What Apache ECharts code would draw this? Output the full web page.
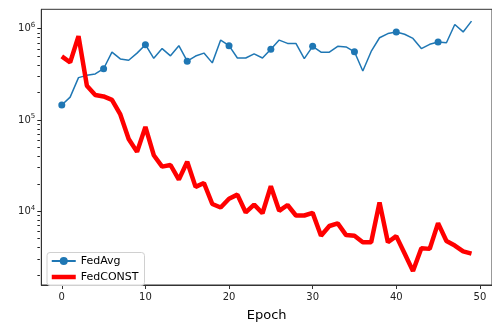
<!DOCTYPE html>
<html><head><meta charset="utf-8">
<script src="https://cdn.jsdelivr.net/npm/echarts@6/dist/echarts.min.js"></script>
<style>html,body{margin:0;padding:0;background:#fff}#c{width:492px;height:327px}</style>
</head><body><div id="c"></div>
<script>
const epochs = [0,1,2,3,4,5,6,7,8,9,10,11,12,13,14,15,16,17,18,19,20,21,22,23,24,25,26,27,28,29,30,31,32,33,34,35,36,37,38,39,40,41,42,43,44,45,46,47,48,49];
const fedAvg = [146000,178000,291000,308000,319000,364000,554000,466000,451000,540000,668000,473000,605000,504000,651000,440000,501000,540000,422000,750000,652000,477000,477000,530000,477000,596000,750000,690000,690000,469000,641000,553000,553000,641000,631000,558000,344000,563000,795000,884000,921000,869000,782000,605000,674000,713000,702000,1110000,921000,1210000];
const fedConst = [497000,428000,828000,237000,188000,181000,166000,115000,62000,44700,84000,41100,30800,32100,22200,34800,18500,20400,12000,11000,13700,15200,9700,11800,9500,18800,10100,11700,8980,8980,9600,5380,6890,7360,5480,5380,4570,4570,12500,4570,5340,3450,2210,3940,3870,7410,4720,4210,3630,3430];
const xTicks = [0,10,20,30,40,50];
const yMajor = [1e4,1e5,1e6];
const yMinor = [2e3,3e3,4e3,5e3,6e3,7e3,8e3,9e3,2e4,3e4,4e4,5e4,6e4,7e4,8e4,9e4,2e5,3e5,4e5,5e5,6e5,7e5,8e5,9e5];
const seriesNames = ['FedAvg','FedCONST'];
const markEvery = 5;
const yMin = 1556, yMax = 1630000;
const gridLeft = 41.3, gridTop = 9.3, gridW = 452.1, gridH = 281.7;

const font = 'DejaVu Sans';
const chart = echarts.init(document.getElementById('c'), null, {renderer:'canvas'});
const avgData = epochs.map((e,i)=> i % markEvery === 0 ? [e, fedAvg[i]] : {value:[e, fedAvg[i]], symbol:'none'});
const constData = epochs.map((e,i)=>[e, fedConst[i]]);
chart.setOption({
  animation:false,
  backgroundColor:'#fff',
  grid:{left:gridLeft, top:gridTop, width:gridW, height:gridH, show:true, borderColor:'#333', borderWidth:1, containLabel:false},
  legend:{
    left:47, top:252.5, orient:'vertical',
    padding:[3,6,3,2.5], itemGap:5, itemWidth:24, itemHeight:10,
    backgroundColor:'rgba(255,255,255,0.8)', borderColor:'#d0d0d0', borderWidth:1, borderRadius:3,
    textStyle:{fontFamily:font, fontSize:11, color:'#000'},
    data:[{name:seriesNames[0]}, {name:seriesNames[1], itemStyle:{opacity:0}, lineStyle:{width:4.5, color:'#ff0000', opacity:1}}]
  },
  xAxis:{
    type:'value', min:-2.45, max:51.45,
    axisLine:{show:true, onZero:false, lineStyle:{color:'#333', width:1}},
    axisTick:{show:true, length:4, lineStyle:{color:'#333'}, customValues:xTicks},
    axisLabel:{fontFamily:font, fontSize:10, color:'#222', margin:7, customValues:xTicks},
    splitLine:{show:false},
    name:'Epoch', nameLocation:'middle', nameGap:24,
    nameTextStyle:{fontFamily:font, fontSize:13, color:'#000'}
  },
  yAxis:[
    {
      type:'log', logBase:10, min:yMin, max:yMax, splitLine:{show:false}, position:'left',
      axisLine:{show:true, onZero:false, lineStyle:{color:'#333', width:1}},
      axisTick:{show:true, length:4, lineStyle:{color:'#222', width:1}, customValues:yMajor},
      axisLabel:{fontFamily:font, fontSize:10, color:'#222', margin:6, customValues:yMajor,
        formatter:v=>'10{sup|'+Math.round(Math.log10(v))+'}',
        rich:{sup:{fontFamily:font, fontSize:7, color:'#222', verticalAlign:'bottom', padding:[0,0,7,0]}}}
    },
    {
      // minor-tick axis: uses the right slot, shifted onto the left spine
      type:'log', logBase:10, min:yMin, max:yMax, splitLine:{show:false}, position:'right', offset:-gridW,
      axisLine:{show:false, onZero:false},
      axisTick:{show:true, inside:true, length:2.5, lineStyle:{color:'#222', width:1}, customValues:yMinor},
      axisLabel:{show:false}
    }
  ],
  series:[
    {name:seriesNames[0], type:'line', data:avgData, yAxisIndex:0,
     color:'#1f77b4', symbol:'circle', symbolSize:7, showAllSymbol:true,
     lineStyle:{width:1.5, color:'#1f77b4'}, itemStyle:{color:'#1f77b4'}},
    {name:seriesNames[1], type:'line', data:constData, yAxisIndex:0,
     color:'#ff0000', symbol:'none',
     lineStyle:{width:4.5, color:'#ff0000'}, itemStyle:{color:'#ff0000'}}
  ]
});
</script></body></html>
